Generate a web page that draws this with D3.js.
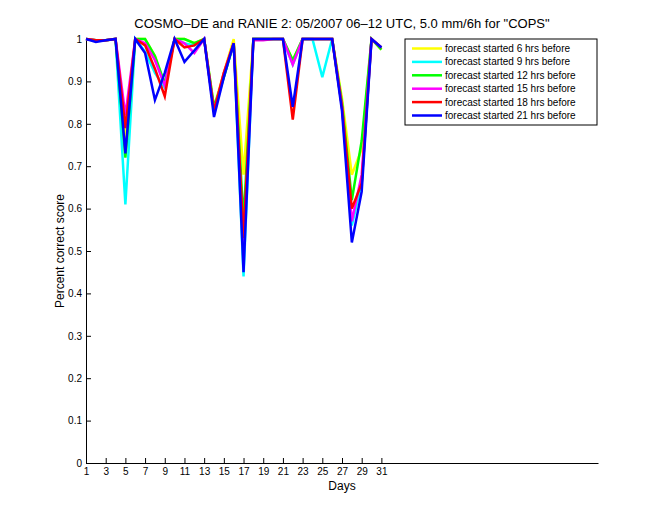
<!DOCTYPE html>
<html>
<head>
<meta charset="utf-8">
<script src="https://cdn.jsdelivr.net/npm/d3@7"></script>
<style>
  body { margin: 0; background: #fff; }
  text { font-family: "Liberation Sans", Arial, sans-serif; fill: #000; }
</style>
</head>
<body>
<div id="my_dataviz"></div>
<script>

// days of May 2007
var days = [1, 2, 3, 4, 5, 6, 7, 8, 9, 10, 11, 12, 13, 14, 15, 16,
            17, 18, 19, 20, 21, 22, 23, 24, 25, 26, 27, 28, 29, 30, 31];

// percent correct score, one list per forecast lead time
var lead6  = [1, 0.997, 0.997, 1, 0.76, 1, 1, 0.96, 0.89, 1, 1, 0.99, 1, 0.84, 0.92, 1,
              0.68, 1, 1, 1, 1, 0.95, 1, 1, 1, 1, 0.86, 0.68, 0.74, 1, 0.975];
var lead9  = [1, 0.997, 0.997, 1, 0.61, 1, 0.97, 0.92, 0.885, 1, 0.99, 0.985, 1, 0.83, 0.91, 0.99,
              0.44, 1, 1, 1, 1, 0.94, 1, 1, 0.91, 1, 0.84, 0.56, 0.66, 1, 0.98];
var lead12 = [1, 0.997, 0.997, 1, 0.72, 1, 1, 0.96, 0.895, 1, 1, 0.99, 1, 0.84, 0.91, 0.99,
              0.57, 1, 1, 1, 1, 0.95, 1, 1, 1, 1, 0.85, 0.62, 0.76, 1, 0.975];
var lead15 = [1, 0.997, 0.997, 1, 0.82, 1, 0.99, 0.95, 0.89, 1, 0.99, 0.967, 1, 0.83, 0.92, 0.99,
              0.50, 0.997, 0.997, 1, 1, 0.94, 1, 1, 1, 1, 0.84, 0.57, 0.68, 1, 0.98];
var lead18 = [1, 0.997, 0.997, 1, 0.79, 1, 0.985, 0.93, 0.865, 1, 0.98, 0.985, 1, 0.83, 0.92, 0.99,
              0.53, 1, 1, 1, 1, 0.81, 1, 1, 1, 1, 0.84, 0.60, 0.66, 1, 0.98];
var lead21 = [1, 0.993, 0.997, 1, 0.73, 1, 0.967, 0.856, 0.92, 1, 0.946, 0.973, 1, 0.816, 0.91, 0.99,
              0.45, 1, 1, 1, 1, 0.84, 1, 1, 1, 1, 0.83, 0.52, 0.64, 1, 0.98];

var seriesNames = ["forecast started 6 hrs before", "forecast started 9 hrs before",
                   "forecast started 12 hrs before", "forecast started 15 hrs before",
                   "forecast started 18 hrs before", "forecast started 21 hrs before"];
var seriesColors = ["#ffff00", "#00ffff", "#00ff00", "#ff00ff", "#ff0000", "#0000ff"];

var xTicks = [1, 3, 5, 7, 9, 11, 13, 15, 17, 19, 21, 23, 25, 27, 29, 31];
var yTicks = [0, 0.1, 0.2, 0.3, 0.4, 0.5, 0.6, 0.7, 0.8, 0.9, 1];

var titleText = "COSMO\u2013DE and RANIE 2: 05/2007 06\u201312 UTC, 5.0 mm/6h for \"COPS\"";

// build the table the lines are drawn from
var allSeries = [lead6, lead9, lead12, lead15, lead18, lead21].map(function(vals, i) {
  return {
    name: seriesNames[i],
    color: seriesColors[i],
    values: days.map(function(d, j) { return {day: d, score: vals[j]}; })
  };
});

// dimensions
var W = 660, H = 520;
var margin = {top: 39, right: 62, bottom: 57, left: 86};

var svg = d3.select("#my_dataviz")
  .append("svg")
    .attr("width", W)
    .attr("height", H);

svg.append("rect").attr("width", W).attr("height", H).attr("fill", "#fff");

var x = d3.scaleLinear()
  .domain([1, 53])
  .range([margin.left, W - margin.right]);

var y = d3.scaleLinear()
  .domain([0, 1])
  .range([H - margin.bottom, margin.top]);

// axes, matlab style: ticks pointing inward
var xAxis = svg.append("g")
  .attr("transform", "translate(0," + y(0) + ")")
  .call(d3.axisBottom(x).tickValues(xTicks).tickSizeInner(-5).tickSizeOuter(0).tickPadding(5)
    .tickFormat(d3.format("d")));

var yAxis = svg.append("g")
  .attr("transform", "translate(" + x(1) + ",0)")
  .call(d3.axisLeft(y).tickValues(yTicks).tickSizeInner(-5).tickSizeOuter(0).tickPadding(4)
    .tickFormat(function(d) { return d3.format("~g")(d); }));

[xAxis, yAxis].forEach(function(g) {
  g.selectAll("text")
    .style("font-family", "Liberation Sans, Arial, sans-serif")
    .style("font-size", "10px")
    .attr("fill", "#000");
  g.selectAll("line").attr("stroke", "#000");
  g.select(".domain").attr("stroke", "#000");
});

// the lines
var line = d3.line()
  .x(function(d) { return x(d.day); })
  .y(function(d) { return y(d.score); });

svg.append("g")
  .selectAll("path")
  .data(allSeries)
  .enter().append("path")
    .attr("fill", "none")
    .attr("stroke", function(d) { return d.color; })
    .attr("stroke-width", 2.5)
    .attr("stroke-linejoin", "miter")
    .attr("d", function(d) { return line(d.values); });

// title and axis labels
svg.append("text")
  .attr("x", (x(1) + x(53)) / 2)
  .attr("y", 28)
  .attr("text-anchor", "middle")
  .style("font-size", "13px")
  .text(titleText);

svg.append("text")
  .attr("x", (x(1) + x(53)) / 2)
  .attr("y", 490)
  .attr("text-anchor", "middle")
  .style("font-size", "12px")
  .text("Days");

svg.append("text")
  .attr("transform", "translate(64," + (y(0) + y(1)) / 2 + ") rotate(-90)")
  .attr("text-anchor", "middle")
  .style("font-size", "12px")
  .text("Percent correct score");

// legend
var legend = svg.append("g").attr("transform", "translate(405,39)");

legend.append("rect")
  .attr("width", 192)
  .attr("height", 86)
  .attr("fill", "#fff")
  .attr("stroke", "#000");

var items = legend.selectAll("g.item")
  .data(allSeries)
  .enter().append("g")
    .attr("class", "item")
    .attr("transform", function(d, i) { return "translate(0," + (9.5 + i * 13.4) + ")"; });

items.append("line")
  .attr("x1", 7).attr("x2", 37)
  .attr("stroke", function(d) { return d.color; })
  .attr("stroke-width", 2.5);

items.append("text")
  .attr("x", 40)
  .attr("y", 3.5)
  .style("font-size", "10px")
  .text(function(d) { return d.name; });

</script>
</body>
</html>
